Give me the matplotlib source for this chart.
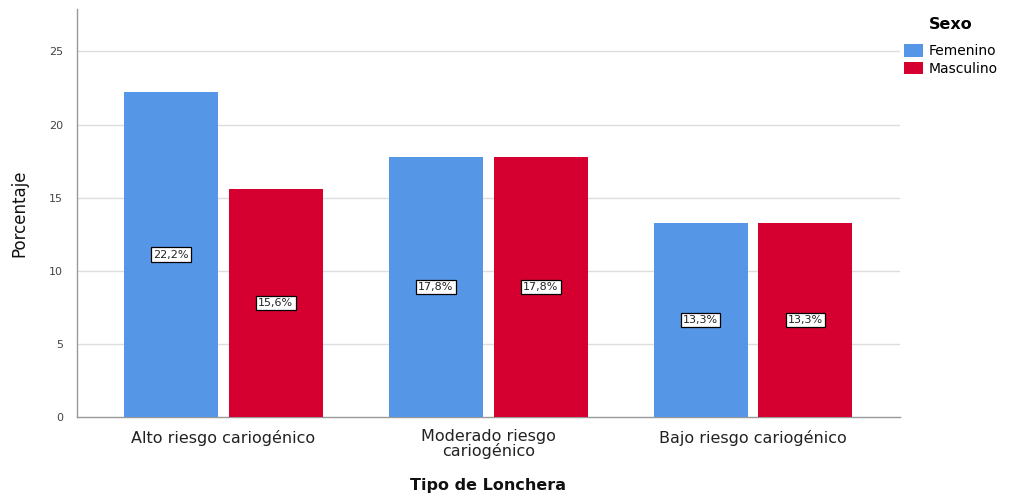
import matplotlib
matplotlib.use("Agg")
import matplotlib.pyplot as plt
import numpy as np

categories = ["Alto riesgo cariogénico", "Moderado riesgo\ncariogénico", "Bajo riesgo cariogénico"]
femenino = [22.2, 17.8, 13.3]
masculino = [15.6, 17.8, 13.3]
series_names = ["Femenino", "Masculino"]
yticks = [0, 5, 10, 15, 20, 25]

colors = ["#5596E6", "#D5002F"]

fig = plt.figure(figsize=(10.11, 4.95), dpi=100)
ax = fig.add_axes([77/1011, 1-417/495, (900-77)/1011, (417-9)/495])

x = np.arange(len(categories))
w = 0.355
off = 0.198
for vals, c, name, o in [(femenino, colors[0], series_names[0], -off),
                          (masculino, colors[1], series_names[1], off)]:
    bars = ax.bar(x + o, vals, width=w, color=c, label=name, zorder=3)
    for b, v in zip(bars, vals):
        ax.text(b.get_x() + b.get_width()/2, v/2, f"{v:.1f}%".replace(".", ","),
                ha="center", va="center", fontsize=8, color="#222222", zorder=4,
                bbox=dict(boxstyle="square,pad=0.2", fc="white", ec="black", lw=0.9))

ax.set_xlim(-0.553, 2.555)
ax.set_ylim(0, 27.9)
ax.set_yticks(yticks)
ax.set_yticklabels([str(t) for t in yticks], fontsize=8, color="#444444")
ax.set_xticks(x)
ax.set_xticklabels(categories, fontsize=11.5, color="#222222", linespacing=0.85)
ax.tick_params(axis="both", length=0)
ax.tick_params(axis="y", pad=10)
ax.tick_params(axis="x", pad=9)
for t in yticks[1:]:
    ax.axhline(t, color="#DDDDDD", lw=1, zorder=1)
for s in ["top", "right"]:
    ax.spines[s].set_visible(False)
for s in ["left", "bottom"]:
    ax.spines[s].set_color("#999999")
    ax.spines[s].set_linewidth(1)

ax.set_ylabel("Porcentaje", fontsize=12, color="#111111", labelpad=15)
ax.set_xlabel("Tipo de Lonchera", fontsize=11.5, fontweight="bold", color="#111111", labelpad=14)

leg = fig.legend(loc="upper left", bbox_to_anchor=(901/1011, 1-14/495), frameon=False,
                 title="Sexo", fontsize=10, handlelength=1.4, handleheight=1.0,
                 handletextpad=0.4, labelspacing=0.25, borderaxespad=0.0, borderpad=0.2)
leg.get_title().set_fontweight("bold")
leg.get_title().set_fontsize(11.5)
leg._legend_box.sep = 9

fig.savefig("out.png", dpi=100)
